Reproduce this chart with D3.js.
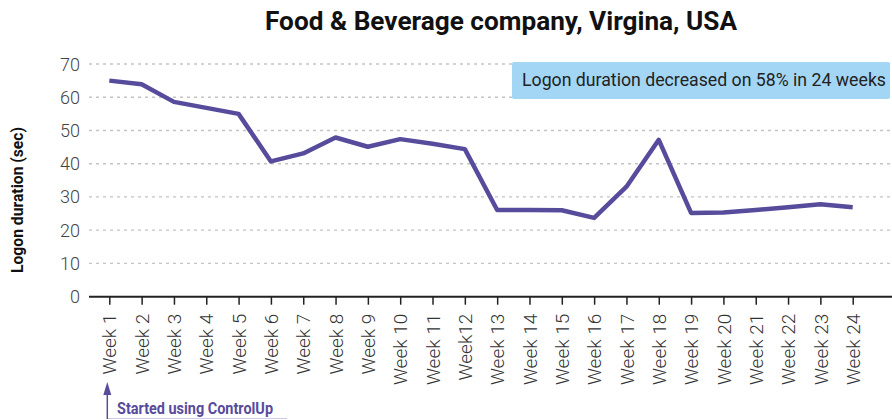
<!DOCTYPE html>
<html>
<head>
<meta charset="utf-8">
<script src="https://cdn.jsdelivr.net/npm/d3@7"></script>
<style>
  body { margin: 0; background: #fff; }
  svg { display: block; font-family: Roboto, "Noto Sans", sans-serif; }
</style>
</head>
<body>
<script>
const weeks = ['Week 1', 'Week 2', 'Week 3', 'Week 4', 'Week 5', 'Week 6', 'Week 7', 'Week 8',
  'Week 9', 'Week 10', 'Week 11', 'Week12', 'Week 13', 'Week 14', 'Week 15', 'Week 16',
  'Week 17', 'Week 18', 'Week 19', 'Week 20', 'Week 21', 'Week 22', 'Week 23', 'Week 24'];
const logonSec = [65, 63.9, 58.6, 56.8, 55, 40.7, 43.1, 47.9, 45.1, 47.4, 46, 44.4,
  26.1, 26.1, 26, 23.7, 33.1, 47.2, 25.2, 25.3, 26.1, 26.9, 27.8, 26.9];
const yTicks = [0, 10, 20, 30, 40, 50, 60, 70];

const W = 892, H = 420;
const lineColor = '#574c9c';

const svg = d3.select('body').append('svg')
  .attr('width', W)
  .attr('height', H);

const x = d3.scalePoint().domain(weeks).range([109.3, 852.7]);
const y = d3.scaleLinear().domain([0, 70]).range([296.7, 64]);

// title
svg.append('text')
  .attr('x', 265)
  .attr('y', 30)
  .attr('textLength', 472)
  .attr('lengthAdjust', 'spacingAndGlyphs')
  .style('font-size', '25px')
  .style('font-weight', 700)
  .attr('fill', '#111')
  .text('Food & Beverage company, Virgina, USA');

// grid
svg.append('g')
  .selectAll('line')
  .data(yTicks.filter(d => d > 0))
  .join('line')
  .attr('x1', 89)
  .attr('x2', W)
  .attr('y1', d => y(d))
  .attr('y2', d => y(d))
  .attr('stroke', '#c4c4c4')
  .attr('stroke-width', 1.3)
  .attr('stroke-dasharray', '3,4');

// y axis labels
svg.append('g')
  .selectAll('text')
  .data(yTicks)
  .join('text')
  .attr('x', 80)
  .attr('y', d => y(d) + 6.5)
  .attr('text-anchor', 'end')
  .style('font-size', '18px')
  .style('font-weight', 300)
  .attr('fill', '#444')
  .text(d => d);

svg.append('text')
  .attr('transform', 'translate(23,200) rotate(-90)')
  .attr('text-anchor', 'middle')
  .attr('textLength', 146)
  .attr('lengthAdjust', 'spacingAndGlyphs')
  .style('font-size', '17px')
  .style('font-weight', 700)
  .attr('fill', '#111')
  .text('Logon duration (sec)');

// x axis
const xAxis = svg.append('g')
  .attr('transform', `translate(0,${y(0)})`)
  .call(d3.axisBottom(x).tickSize(8).tickSizeOuter(0).tickPadding(7));
xAxis.select('.domain').remove();
xAxis.append('line')
  .attr('x1', 89).attr('x2', W)
  .attr('stroke', '#222').attr('stroke-width', 2);
xAxis.selectAll('.tick line').attr('stroke', '#222').attr('stroke-width', 1.5);
xAxis.selectAll('.tick text')
  .attr('transform', 'rotate(-90)')
  .attr('x', -17)
  .attr('y', 0)
  .attr('dy', '0.35em')
  .attr('text-anchor', 'end')
  .style('font-family', 'Roboto, sans-serif')
  .style('font-size', '19px')
  .style('font-weight', 300)
  .attr('fill', '#333');

// note box
svg.append('rect')
  .attr('x', 512).attr('y', 62)
  .attr('width', 378).attr('height', 37)
  .attr('rx', 2)
  .attr('fill', '#a3d6f4');
svg.append('text')
  .attr('x', 522)
  .attr('y', 86)
  .attr('textLength', 364)
  .attr('lengthAdjust', 'spacingAndGlyphs')
  .style('font-size', '18px')
  .attr('fill', '#222')
  .text('Logon duration decreased on 58% in 24 weeks');

// line
const line = d3.line()
  .x((d, i) => x(weeks[i]))
  .y(d => y(d));
svg.append('path')
  .datum(logonSec)
  .attr('d', line)
  .attr('fill', 'none')
  .attr('stroke', lineColor)
  .attr('stroke-width', 4.5)
  .attr('stroke-linejoin', 'round');

// start annotation
const ax = x('Week 1') - 2;
svg.append('line')
  .attr('x1', ax).attr('x2', 287)
  .attr('y1', 418.5).attr('y2', 418.5)
  .attr('stroke', '#cfcbe6').attr('stroke-width', 1);
svg.append('line')
  .attr('x1', ax).attr('x2', ax)
  .attr('y1', 392).attr('y2', 419)
  .attr('stroke', lineColor).attr('stroke-width', 1.5);
svg.append('path')
  .attr('d', `M${ax},382 L${ax - 4},395 L${ax + 4},395 Z`)
  .attr('fill', lineColor);
svg.append('text')
  .attr('x', 117)
  .attr('y', 413.5)
  .attr('textLength', 156)
  .attr('lengthAdjust', 'spacingAndGlyphs')
  .style('font-size', '16px')
  .style('font-weight', 700)
  .attr('fill', lineColor)
  .text('Started using ControlUp');
</script>
</body>
</html>
